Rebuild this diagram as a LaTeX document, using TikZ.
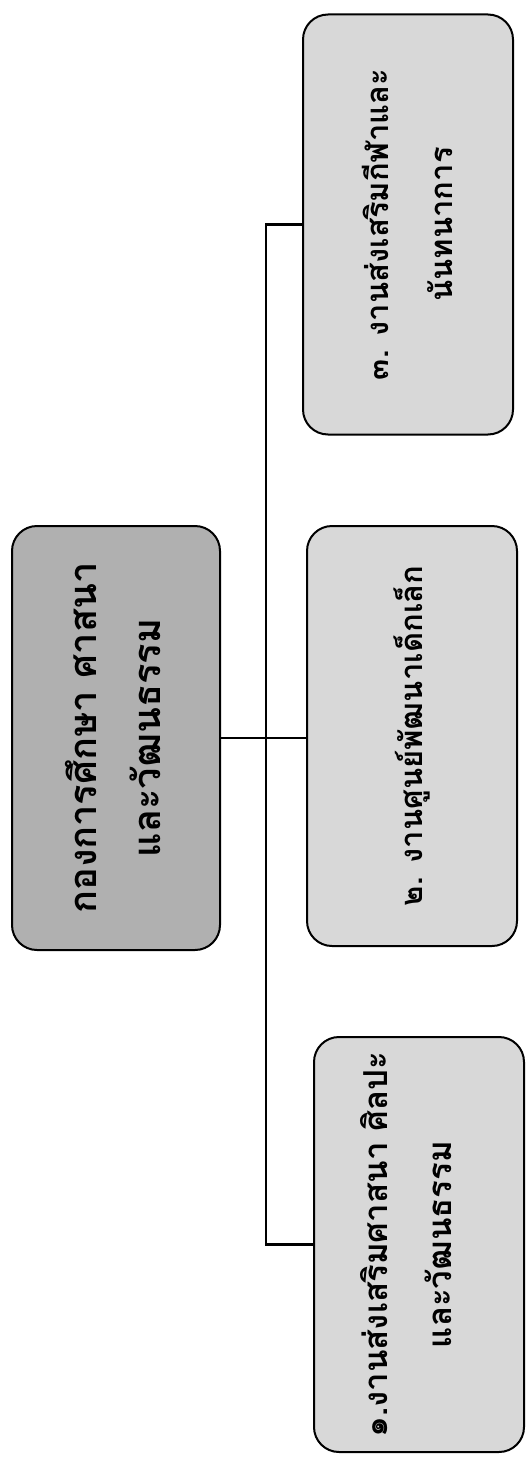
\documentclass[tikz,border=0pt]{standalone}
\usepackage{fontspec}
\newfontfamily\thaifont[Script=Thai]{Loma}
\usetikzlibrary{calc}
\definecolor{maingray}{HTML}{B0B0B0}
\definecolor{subgray}{HTML}{D8D8D8}
\begin{document}
\begin{tikzpicture}[x=1pt,y=1pt,
  boxbase/.style={draw=black, line width=2pt, rounded corners=25pt, inner sep=0pt, align=center},
  mainbox/.style={boxbase, fill=maingray, minimum width=208pt, minimum height=424pt},
  subbox/.style={boxbase, fill=subgray, minimum width=210pt, minimum height=420pt},
  link/.style={draw=black, line width=2.5pt}]
\useasboundingbox (0,0) rectangle (525,-1458);
\node[mainbox] (main) at (116,-738) {\rotatebox{90}{\thaifont\bfseries\fontsize{38}{64}\selectfont\begin{tabular}{@{}c@{}}กองการศึกษา ศาสนา\\และวัฒนธรรม\end{tabular}}};
\node[subbox] (t3) at (408,-224.5) {\rotatebox{90}{\thaifont\bfseries\fontsize{31}{64}\selectfont\begin{tabular}{@{}c@{}}๓. งานส่งเสริมกีฬาและ\\นันทนาการ\end{tabular}}};
\node[subbox] (t2) at (412,-736) {\rotatebox{90}{\thaifont\bfseries\fontsize{31}{64}\selectfont ๒. งานศูนย์พัฒนาเด็กเล็ก}};
\node[subbox, minimum height=415pt] (t1) at (419,-1244.5) {\hspace*{-24pt}\rotatebox{90}{\thaifont\bfseries\fontsize{33}{64}\selectfont\begin{tabular}{@{}c@{}}๑.งานส่งเสริมศาสนา ศิลปะ\\และวัฒนธรรม\end{tabular}}};
\coordinate (busx) at (266,0);
\draw[link] (main.east) -- (main.east -| t2.west);
\draw[link] (t3.west) -- (t3.west -| busx) -- (t1.west -| busx) -- (t1.west);
\end{tikzpicture}
\end{document}
